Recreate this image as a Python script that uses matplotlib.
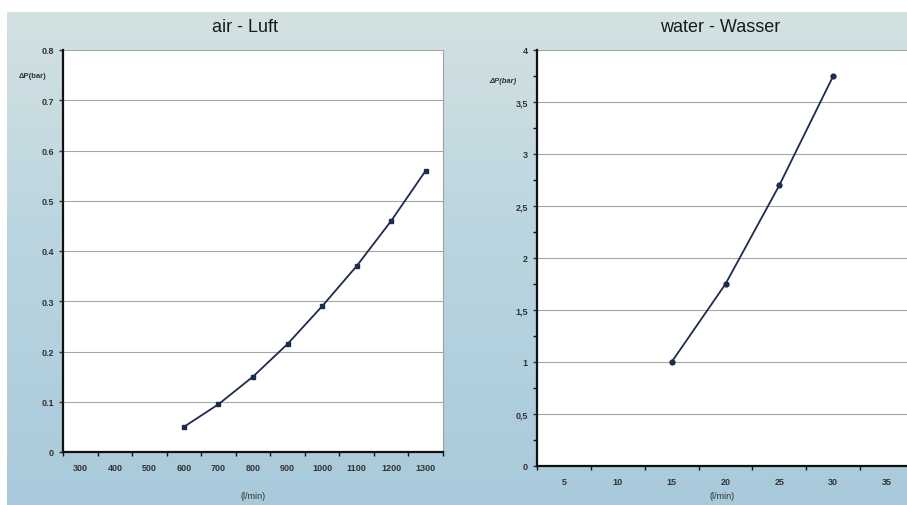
"""Pressure drop vs. flow rate, air and water (scan-style two-panel chart)."""

import matplotlib

matplotlib.use("Agg")
import matplotlib.pyplot as plt
import numpy as np
from matplotlib.colors import LinearSegmentedColormap
from matplotlib.ticker import MultipleLocator

plt.rcParams["font.family"] = ["Liberation Sans", "DejaVu Sans"]

# air - Luft
air_ticks = [300, 400, 500, 600, 700, 800, 900, 1000, 1100, 1200, 1300]
air_flow = [600, 700, 800, 900, 1000, 1100, 1200, 1300]
air_dp = [0.05, 0.095, 0.15, 0.215, 0.29, 0.37, 0.46, 0.56]
air_yticks = [0, 0.1, 0.2, 0.3, 0.4, 0.5, 0.6, 0.7, 0.8]

# water - Wasser
water_ticks = [5, 10, 15, 20, 25, 30, 35]
water_flow = [15, 20, 25, 30]
water_dp = [1.0, 1.75, 2.7, 3.75]
water_yticks = [0, 0.5, 1, 1.5, 2, 2.5, 3, 3.5, 4]
water_ylabels = ["0", "0,5", "1", "1,5", "2", "2,5", "3", "3,5", "4"]

W, H = 907, 506
LINE = "#1d2b4f"
TXT = "#333333"

fig = plt.figure(figsize=(W / 100, H / 100), dpi=100, facecolor="white")

# light blue card behind both charts
bg = fig.add_axes([7 / W, 0, 1 - 7 / W, (H - 13) / H], zorder=-10)
grad = np.linspace(0, 1, 256).reshape(-1, 1)
cmap = LinearSegmentedColormap.from_list("card", ["#a9cadb", "#b8d4df", "#d3e1e2"])
bg.imshow(grad, aspect="auto", cmap=cmap, origin="lower", extent=[0, 1, 0, 1])
bg.set_axis_off()


def style(ax):
    ax.set_facecolor("white")
    ax.grid(axis="y", color="#a6a6a6", lw=0.8)
    ax.set_axisbelow(True)
    for side in ("top", "right"):
        ax.spines[side].set_visible(False)
    for side in ("left", "bottom"):
        ax.spines[side].set_color("#111111")
        ax.spines[side].set_linewidth(1.6)
    ax.tick_params(axis="both", which="major", labelsize=6.5, colors=TXT, length=3, width=1)
    ax.tick_params(axis="x", which="major", length=0, pad=8)
    ax.tick_params(axis="both", which="minor", length=3, width=1, color="#111111")
    for lab in ax.get_xticklabels() + ax.get_yticklabels():
        lab.set_fontweight("bold")


# left panel
ax1 = fig.add_axes([63 / W, (H - 453) / H, (443 - 63) / W, (453 - 51) / H])
ax1.plot(air_flow, air_dp, color=LINE, lw=1.3, marker="s", ms=3.5, mfc=LINE, mec=LINE)
ax1.set_xlim(250, 1350)
ax1.set_ylim(0, 0.8)
ax1.set_xticks(air_ticks)
ax1.set_xticklabels([str(t) for t in air_ticks])
ax1.xaxis.set_minor_locator(MultipleLocator(100, offset=50))
ax1.set_yticks(air_yticks)
ax1.set_yticklabels([f"{t:g}" for t in air_yticks])
style(ax1)
ax1.spines["right"].set_visible(True)
ax1.spines["right"].set_color("#a0a0a0")
ax1.spines["right"].set_linewidth(0.8)
ax1.spines["right"].set_linestyle((0, (2, 1)))

fig.text(245 / W, 1 - 28 / H, "air - Luft", ha="center", va="center", fontsize=13, color="#1a1a1a")
fig.text(33 / W, 1 - 76 / H, "ΔP(bar)", ha="center", va="center", fontsize=5.5, color=TXT,
         fontweight="bold")
fig.text(253 / W, 1 - 497 / H, "(l/min)", ha="center", va="center", fontsize=6.5, color=TXT)

# right panel (runs off the right edge like the scan)
ax2 = fig.add_axes([537 / W, (H - 467) / H, (914 - 537) / W, (467 - 51) / H])
ax2.plot(water_flow, water_dp, color=LINE, lw=1.3, marker="o", ms=3.5, mfc=LINE, mec=LINE)
ax2.set_xlim(2.5, 37.5)
ax2.set_ylim(0, 4)
ax2.set_xticks(water_ticks)
ax2.set_xticklabels([str(t) for t in water_ticks])
ax2.xaxis.set_minor_locator(MultipleLocator(5, offset=2.5))
ax2.set_yticks(water_yticks)
ax2.set_yticklabels(water_ylabels)
ax2.yaxis.set_minor_locator(MultipleLocator(0.25))
style(ax2)

fig.text(720 / W, 1 - 28 / H, "water - Wasser", ha="center", va="center", fontsize=13,
         color="#1a1a1a")
fig.text(503 / W, 1 - 82 / H, "ΔP(bar)", ha="center", va="center", fontsize=5.5, color=TXT,
         fontweight="bold", style="italic")
fig.text(722 / W, 1 - 497 / H, "(l/min)", ha="center", va="center", fontsize=6.5, color=TXT)

fig.savefig("out.png", dpi=100, facecolor="white")
